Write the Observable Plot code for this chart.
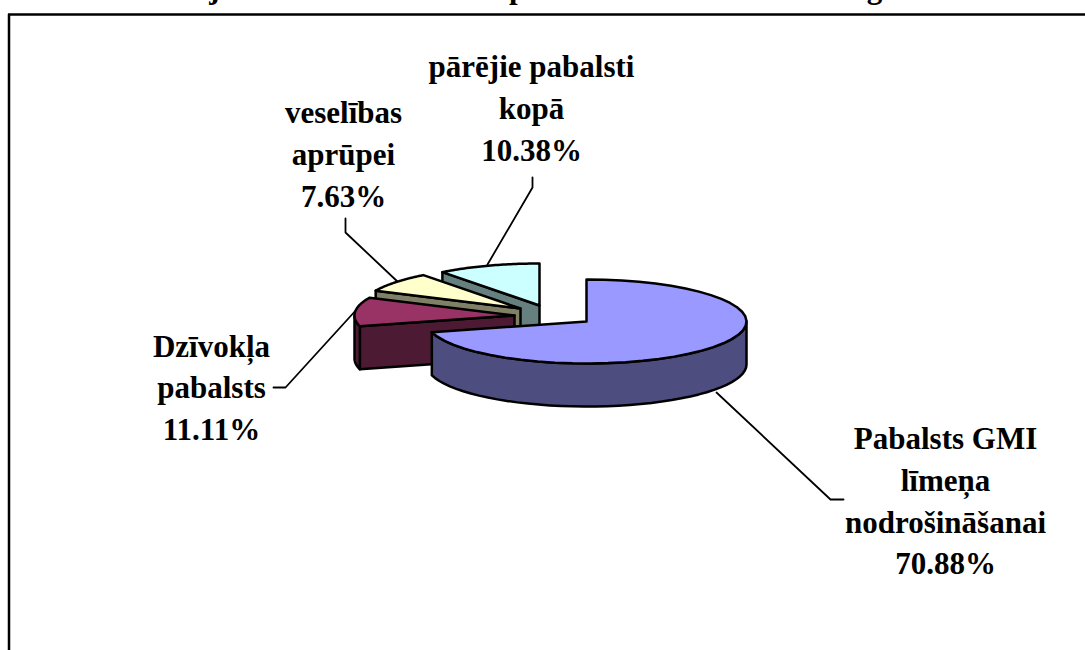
<!DOCTYPE html>
<html>
<head>
<meta charset="utf-8">
<script src="https://cdn.jsdelivr.net/npm/d3@7"></script>
<script src="https://cdn.jsdelivr.net/npm/@observablehq/plot@0.6"></script>
<style>html,body{margin:0;padding:0;background:#fff;overflow:hidden}svg{display:block}</style>
</head>
<body>
<div id="chart"></div>
<script>
// data
const categories = ["Pabalsts GMI līmeņa nodrošināšanai","Dzīvokļa pabalsts","veselības aprūpei","pārējie pabalsti kopā"];
const shares = [70.88, 11.11, 7.63, 10.38];
const topColors = ["#9999ff","#993366","#ffffcc","#ccffff"];
const wallColors = ["#4d4d80","#4d1a33","#808066","#668080"];
// label lines as drawn
const labelLines = [
  ["Pabalsts GMI","līmeņa","nodrošināšanai","70.88%"],
  ["Dzīvokļa","pabalsts","11.11%"],
  ["veselības","aprūpei","7.63%"],
  ["pārējie pabalsti","kopā","10.38%"]
];
// layout (page pixels)
const apexX = [586,514,520,539], apexY = [321,315,308,305];
const rx = 160, ry = 42, depth = 43;
const labelX = [945,211,343,531], labelY = [[448,490,532,573],[356,397,439],[122,164,206],[76,118,160]];
const leaders = [
  [[716,392],[830,499],[843,499]],
  [[357,308],[285,387],[273,387]],
  [[398,282],[345,232],[345,218]],
  [[487,264],[532,187],[532,177]]
];
const descenders = [{t:"j",x:214},{t:"p",x:517},{t:"g",x:874}];

// slice angles, clockwise from the top
let acc = 0;
const slices = shares.map((s,i)=>{const a0=acc; acc+=s/100*360; return {i,a0,a1:acc};});
const rad = d=>d*Math.PI/180;
const rim = (i,a,dy=0)=>({x:apexX[i]+rx*Math.sin(rad(a)), y:apexY[i]-ry*Math.cos(rad(a))+dy});
const arc = (i,a0,a1,dy=0)=>d3.range(0,41).map(k=>rim(i,a0+(a1-a0)*k/40,dy));
const apex = (i,dy=0)=>({x:apexX[i],y:apexY[i]+dy});

const poly = (pts,fill)=>Plot.line(pts,{x:"x",y:"y",fill,stroke:"#000",strokeWidth:2.5,curve:"linear-closed",strokeLinejoin:"round"});
const sliceMarks = [];
for (const j of [3,2,1,0]) {
  const {i,a0,a1} = slices[j];
  // cut face at the start edge, visible for the exploded slices
  if (i>0) sliceMarks.push(poly([apex(i),rim(i,a0),rim(i,a0,depth),apex(i,depth)],wallColors[i]));
  // outer wall: the front half of the rim only
  const w0 = Math.max(a0,90), w1 = Math.min(a1,270);
  if (w1>w0) sliceMarks.push(poly([...arc(i,w0,w1),...arc(i,w1,w0,depth)],wallColors[i]));
  sliceMarks.push(poly([apex(i),...arc(i,a0,a1)],topColors[i]));
}

const labelRows = labelLines.flatMap((ls,i)=>ls.map((t,k)=>({t,x:labelX[i],y:labelY[i][k]})));
const font = {fontFamily:"'Liberation Serif',serif",fontWeight:"bold",fill:"#000",lineAnchor:"bottom",textAnchor:"middle"};

const chart = Plot.plot({
  width:1085,height:650,margin:0,
  x:{domain:[0,1085],range:[0,1085],axis:null},
  y:{domain:[0,650],range:[0,650],axis:null},
  style:{background:"#fff",overflow:"hidden"},
  marks:[
    Plot.text(descenders,{x:"x",y:()=>-3,text:"t",fontSize:31,...font}),
    Plot.ruleY([14],{x1:8,x2:1085,stroke:"#000",strokeWidth:2.5}),
    Plot.ruleX([8.5],{y1:14,y2:650,stroke:"#000",strokeWidth:2.5}),
    ...leaders.map(l=>Plot.line(l,{x:d=>d[0],y:d=>d[1],stroke:"#000",strokeWidth:1.8})),
    ...sliceMarks,
    Plot.text(labelRows,{x:"x",y:"y",text:"t",fontSize:31,...font})
  ]
});
document.getElementById("chart").append(chart);
</script>
</body>
</html>
